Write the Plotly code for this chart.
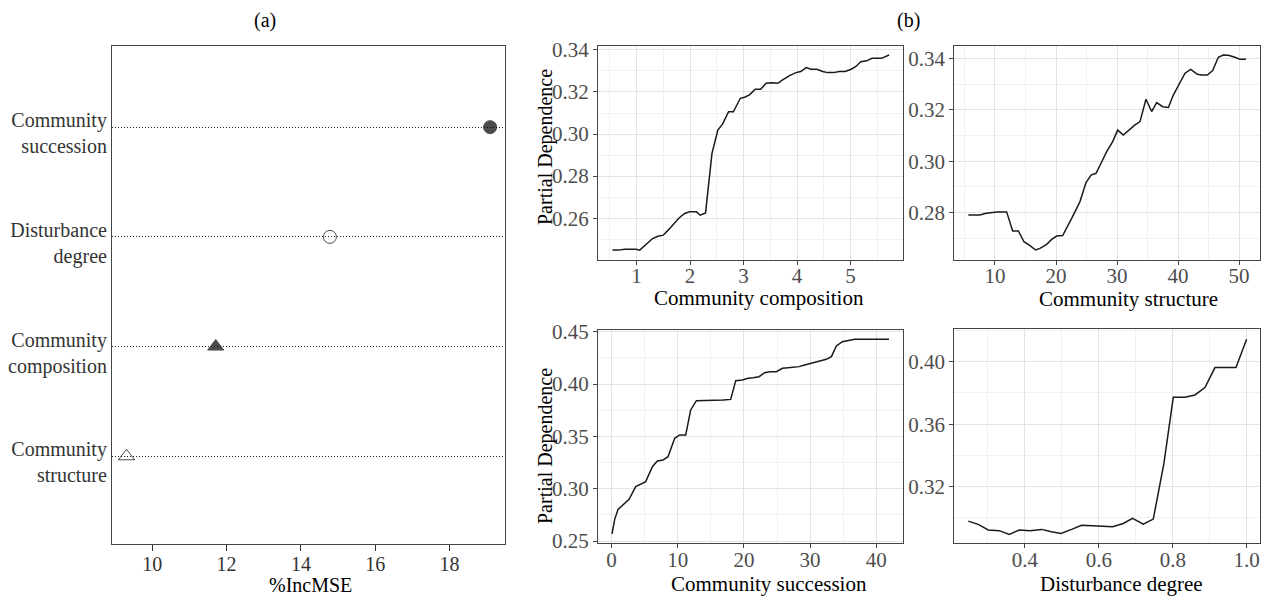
import plotly.graph_objects as go

W, H = 1266, 597
FONT = "Liberation Serif"

# ---------------- data ----------------
var_labels = ["Community<br>structure", "Community<br>composition",
              "Disturbance<br>degree", "Community<br>succession"]
inc_mse = [9.31, 11.71, 14.78, 19.09]
marker_symbols = ["triangle-up-open", "triangle-up", "circle-open", "circle"]

comp_x = [0.55, 0.66, 0.78, 0.99, 1.06, 1.19, 1.30, 1.40, 1.50, 1.59, 1.68, 1.80, 1.90, 1.99,
          2.12, 2.19, 2.29, 2.34, 2.41, 2.52, 2.61, 2.72, 2.81, 2.94, 3.02, 3.11, 3.22, 3.32,
          3.42, 3.53, 3.64, 3.73, 3.86, 3.98, 4.07, 4.17, 4.26, 4.37, 4.48, 4.57, 4.68, 4.79,
          4.90, 5.01, 5.10, 5.19, 5.30, 5.40, 5.58, 5.72]
comp_y = [0.2448, 0.2448, 0.2452, 0.2452, 0.2448, 0.2479, 0.2503, 0.2514, 0.2519, 0.2543,
          0.2567, 0.2602, 0.2622, 0.2630, 0.2630, 0.2614, 0.2625, 0.2749, 0.2908, 0.3019,
          0.3048, 0.3106, 0.3106, 0.3170, 0.3175, 0.3186, 0.3213, 0.3213, 0.3241, 0.3244,
          0.3241, 0.3257, 0.3278, 0.3292, 0.3297, 0.3316, 0.3308, 0.3308, 0.3297, 0.3292,
          0.3292, 0.3297, 0.3297, 0.3308, 0.3321, 0.3344, 0.3348, 0.3360, 0.3360, 0.3376]

struct_x = [5.63, 7.54, 8.36, 9.45, 10.27, 11.91, 12.90, 13.83, 14.75, 15.63, 16.67, 17.38,
            18.47, 19.29, 20.11, 21.09, 21.75, 22.57, 23.93, 24.92, 25.74, 26.56, 27.38,
            28.31, 29.29, 30.11, 31.04, 32.13, 32.95, 33.77, 34.75, 35.68, 36.50, 37.49,
            38.42, 39.23, 40.22, 41.15, 42.08, 43.17, 43.88, 44.81, 45.68, 46.61, 47.43,
            48.25, 49.34, 50.16, 51.15]
struct_y = [0.2791, 0.2791, 0.2797, 0.2800, 0.2803, 0.2803, 0.2729, 0.2729, 0.2687, 0.2674,
            0.2655, 0.2661, 0.2677, 0.2696, 0.2709, 0.2711, 0.2739, 0.2778, 0.2843, 0.2917,
            0.2946, 0.2953, 0.2992, 0.3037, 0.3076, 0.3121, 0.3102, 0.3125, 0.3141, 0.3154,
            0.3241, 0.3193, 0.3228, 0.3212, 0.3209, 0.3257, 0.3303, 0.3342, 0.3357, 0.3338,
            0.3335, 0.3335, 0.3352, 0.3404, 0.3413, 0.3412, 0.3404, 0.3396, 0.3396]

succ_x = [0.1, 0.5, 1.0, 1.76, 2.67, 3.67, 4.53, 5.18, 6.19, 6.94, 7.80, 8.55, 9.56, 10.31,
          11.22, 11.97, 12.83, 13.84, 14.84, 15.85, 16.86, 18.01, 18.77, 19.77, 20.63, 21.38,
          22.29, 23.14, 23.90, 24.91, 25.81, 26.67, 27.67, 28.33, 29.18, 30.19, 30.84, 31.70,
          32.45, 33.21, 33.96, 34.87, 35.72, 36.73, 37.99, 40.0, 41.91]
succ_y = [0.2567, 0.2707, 0.2802, 0.2850, 0.2898, 0.3019, 0.3051, 0.3067, 0.3210, 0.3264,
          0.3274, 0.3306, 0.3481, 0.3513, 0.3513, 0.3752, 0.3841, 0.3841, 0.3841, 0.3847,
          0.3847, 0.3853, 0.4032, 0.4038, 0.4054, 0.4060, 0.4070, 0.4108, 0.4118, 0.4118,
          0.4150, 0.4156, 0.4159, 0.4166, 0.4182, 0.4197, 0.4213, 0.4220, 0.4236, 0.4261,
          0.4363, 0.4404, 0.4414, 0.4427, 0.4427, 0.4427, 0.4427]

dist_x = [0.2467, 0.2737, 0.3008, 0.3305, 0.3576, 0.3847, 0.4135, 0.4451, 0.4722, 0.4974,
          0.5263, 0.5534, 0.5831, 0.6120, 0.6372, 0.6661, 0.6913, 0.7202, 0.7473, 0.7761,
          0.8014, 0.8330, 0.8600, 0.8871, 0.9141, 0.9412, 0.9710, 0.9998]
dist_y = [0.2980, 0.2959, 0.2923, 0.2919, 0.2895, 0.2923, 0.2919, 0.2927, 0.2912, 0.2901,
          0.2927, 0.2953, 0.2951, 0.2948, 0.2944, 0.2965, 0.2997, 0.2961, 0.2993, 0.3349,
          0.3772, 0.3772, 0.3787, 0.3834, 0.3962, 0.3962, 0.3962, 0.4143]

x_titles = ["Community composition", "Community structure",
            "Community succession", "Disturbance degree"]

# ---------------- layout helpers ----------------
def px_x(a, b):
    return [a / W, b / W]

def px_y(top, bottom):
    return [1 - bottom / H, 1 - top / H]

fig = go.Figure()

# Panel (a)
fig.add_trace(go.Scatter(
    x=inc_mse, y=var_labels, mode="markers", xaxis="x", yaxis="y",
    marker=dict(symbol=marker_symbols, size=[14, 14, 13, 13], color="black",
                line=dict(color="black", width=1)),
    showlegend=False))

pd_series = [(comp_x, comp_y), (struct_x, struct_y), (succ_x, succ_y), (dist_x, dist_y)]
for i, (xs, ys) in enumerate(pd_series):
    n = i + 2
    fig.add_trace(go.Scatter(x=xs, y=ys, mode="lines", xaxis=f"x{n}", yaxis=f"y{n}",
                             line=dict(color="#1a1a1a", width=1.5), showlegend=False))

tick_font_a = dict(family=FONT, size=20, color="#333333")
tick_font_b = dict(family=FONT, size=21, color="#4d4d4d")

layout = dict(
    width=W, height=H, margin=dict(l=0, r=0, t=0, b=0, autoexpand=False),
    paper_bgcolor="white", plot_bgcolor="white",
    font=dict(family=FONT, size=20, color="black"),
    xaxis=dict(domain=px_x(112, 505), range=[8.92, 19.49], tickvals=[10, 12, 14, 16, 18],
               ticks="outside", ticklen=6, tickcolor="#333", showgrid=False, zeroline=False,
               showline=True, linecolor="#444", linewidth=1.2, mirror=True, automargin=False,
               ticklabelstandoff=-4, tickfont=tick_font_a, anchor="y"),
    yaxis=dict(domain=px_y(46, 544), type="category", range=[-0.8, 3.74],
               categoryorder="array", categoryarray=var_labels,
               showgrid=True, gridcolor="#222", griddash="1px,2px", gridwidth=1.2,
               zeroline=False, ticks="", showline=True, linecolor="#444", linewidth=1.2,
               mirror=True, automargin=False, ticklabelshift=6,
               tickfont=tick_font_a, anchor="x"),
)

pd_dom = [
    (px_x(598, 903), px_y(45.7, 260)),
    (px_x(954.3, 1260), px_y(45.7, 260)),
    (px_x(598, 903), px_y(330, 543.3)),
    (px_x(954.3, 1260), px_y(329.3, 543.3)),
]
x_ranges = [[0.28, 5.98], [3.33, 53.44], [-2.02, 44.02], [0.209, 1.036]]
y_ranges = [[0.2401, 0.342], [0.2616, 0.3449], [0.2478, 0.4516], [0.2838, 0.4207]]
x_dticks = [(1, 0.5, None), (10, 5, None), (10, 5, None), (0.2, 0.1, ".1f")]
y_dticks = [(0.02, 0.01), (0.02, 0.01), (0.05, 0.025), (0.04, 0.02)]

for i in range(4):
    n = i + 2
    xd, yd = pd_dom[i]
    dx, mdx, fmt = x_dticks[i]
    dy, mdy = y_dticks[i]
    common = dict(showgrid=True, gridcolor="#e3e3e3", gridwidth=1, zeroline=False,
                  showline=True, linecolor="#444", linewidth=1.3, mirror=True,
                  ticks="outside", ticklen=4, tickcolor="#444", tickfont=tick_font_b,
                  automargin=False)
    layout[f"xaxis{n}"] = dict(domain=xd, range=x_ranges[i], tick0=0, dtick=dx,
                               tickformat=fmt, ticklabelstandoff=-7,
                               minor=dict(dtick=mdx, showgrid=True, gridcolor="#f1f1f1",
                                          ticks=""),
                               anchor=f"y{n}", **common)
    layout[f"yaxis{n}"] = dict(domain=yd, range=y_ranges[i], tick0=0, dtick=dy,
                               tickformat=".2f",
                               minor=dict(dtick=mdy, showgrid=True, gridcolor="#f1f1f1",
                                          ticks=""),
                               anchor=f"x{n}", **common)

fig.update_layout(**layout)

def ann(text, x, y, size=20, angle=0):
    fig.add_annotation(text=text, x=x / W, y=1 - y / H, xref="paper", yref="paper",
                       showarrow=False, textangle=angle, xanchor="center", yanchor="middle",
                       font=dict(family=FONT, size=size, color="black"))

ann("(a)", 265, 20)
ann("(b)", 908, 20)
ann("%IncMSE", 310, 585)
title_pos = [(759, 298), (1128, 299), (769, 584), (1121, 584)]
for t, (tx, ty) in zip(x_titles, title_pos):
    ann(t, tx, ty, size=21)
ann("Partial Dependence", 545, 147, size=20, angle=-90)
ann("Partial Dependence", 545, 446, size=20, angle=-90)

fig.write_html("out.html")
